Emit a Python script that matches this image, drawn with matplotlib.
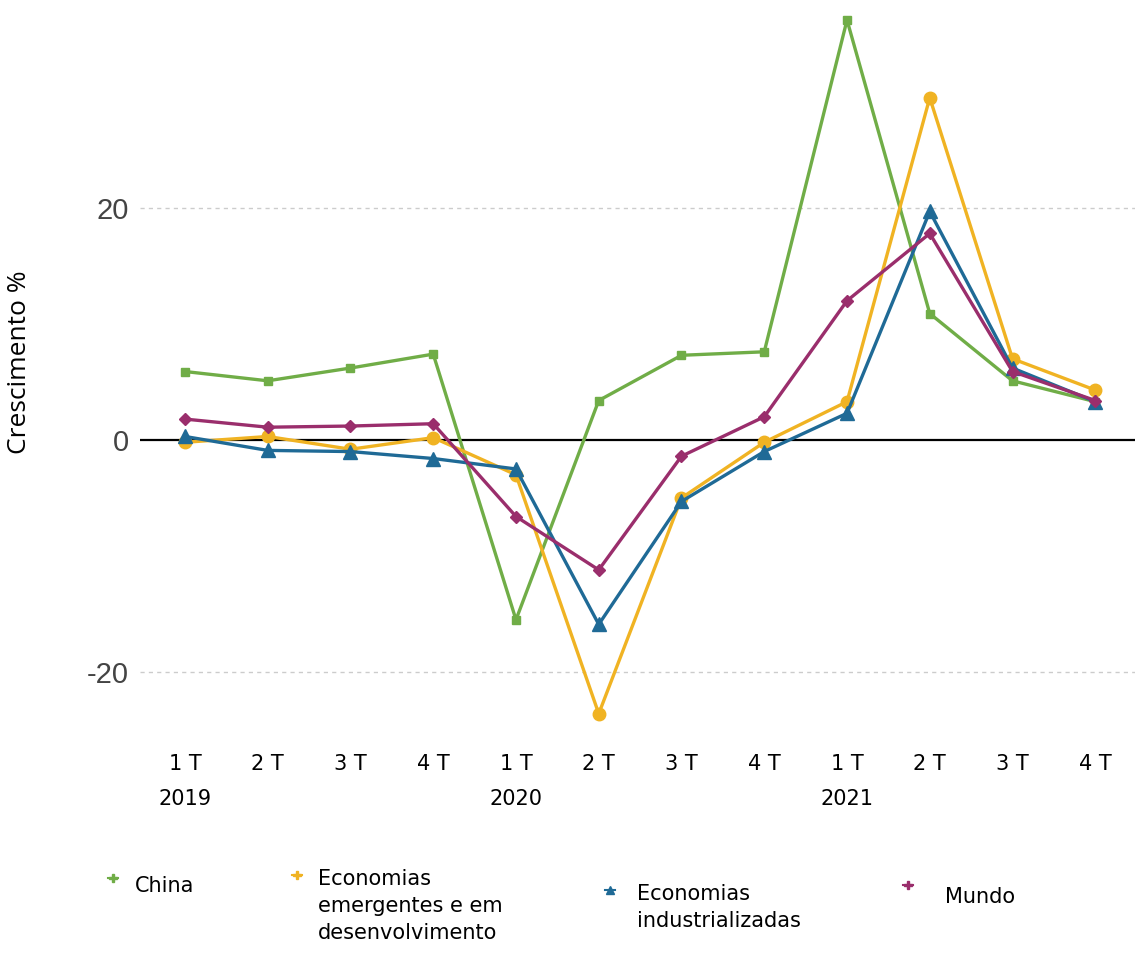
import matplotlib.pyplot as plt
from matplotlib.lines import Line2D

quarters = ["1 T", "2 T", "3 T", "4 T"] * 3
years = {0: "2019", 4: "2020", 8: "2021"}

china = [5.9, 5.1, 6.2, 7.4, -15.5, 3.4, 7.3, 7.6, 36.2, 10.9, 5.1, 3.3]
emergentes = [-0.2, 0.3, -0.8, 0.2, -3.0, -23.6, -5.0, -0.2, 3.3, 29.5, 7.0, 4.3]
industrializadas = [0.3, -0.9, -1.0, -1.6, -2.5, -15.9, -5.3, -1.0, 2.3, 19.7, 6.2, 3.3]
mundo = [1.8, 1.1, 1.2, 1.4, -6.6, -11.2, -1.4, 2.0, 12.0, 17.8, 5.9, 3.4]

series = [
    ("China", china, "#70AD47", "s", 6, "P"),
    ("Economias\nemergentes e em\ndesenvolvimento", emergentes, "#F0B323", "o", 9, "P"),
    ("Economias\nindustrializadas", industrializadas, "#1F6A96", "^", 10, "^"),
    ("Mundo", mundo, "#9A2E6C", "D", 6, "P"),
]

label_font = ["Liberation Sans Narrow", "DejaVu Sans"]

fig = plt.figure(figsize=(11.35, 9.55), dpi=100)
ax = fig.add_axes([0.1233, 0.2235, 0.8767, 0.7713])

x = list(range(len(quarters)))
for name, vals, color, marker, ms, _ in series:
    ax.plot(x, vals, color=color, lw=2.4, marker=marker, ms=ms,
            markeredgecolor=color, zorder=3)

ax.axhline(0, color="black", lw=1.6, zorder=2)
for v in (20, -20):
    ax.axhline(v, color="#cccccc", lw=1, ls=(0, (3, 3)), zorder=1)

ax.set_xlim(-0.544, 11.48)
ax.set_ylim(-26, 37.5)
ax.set_yticks([20, 0, -20])
ax.set_yticklabels(["20", "0", "-20"], fontsize=21, color="#444444",
                   family="Liberation Sans")
ax.tick_params(axis="y", length=0, pad=8)
ax.set_xticks(x)
ax.set_xticklabels([])
ax.tick_params(axis="x", length=0)
for s in ax.spines.values():
    s.set_visible(False)

# quarter and year labels under the plot
for i, q in enumerate(quarters):
    ax.annotate(q, (i, 0), xycoords=("data", "axes fraction"),
                xytext=(0, -22), textcoords="offset pixels",
                ha="center", va="center", fontsize=15, family=label_font)
    if i in years:
        ax.annotate(years[i], (i, 0), xycoords=("data", "axes fraction"),
                    xytext=(0, -57), textcoords="offset pixels",
                    ha="center", va="center", fontsize=15, family=label_font)

fig.text(20 / 1135, 1 - 362 / 955, "Crescimento %", rotation=90,
         ha="center", va="center", fontsize=19, family="Open Sans")

# legend laid out by hand
W, H = 1135, 955
legend_pos = [(113, 878, 135, 887), (297, 875, 318, 880),
              (610, 890, 637, 895), (908, 885, 945, 898)]
for (name, vals, color, marker, ms, key), (mx, my, tx, ty) in zip(series, legend_pos):
    fig.add_artist(Line2D([(mx - 5) / W, (mx + 5) / W], [1 - my / H] * 2,
                          transform=fig.transFigure, color=color, lw=1.5))
    fig.add_artist(Line2D([mx / W], [1 - my / H], transform=fig.transFigure,
                          color=color, marker=key, ms=6, lw=0))
    fig.text(tx / W, 1 - (ty - 11) / H, name, ha="left", va="top",
             fontsize=15, family=label_font, linespacing=1.45)

fig.savefig("out.png", dpi=100, facecolor="white")
